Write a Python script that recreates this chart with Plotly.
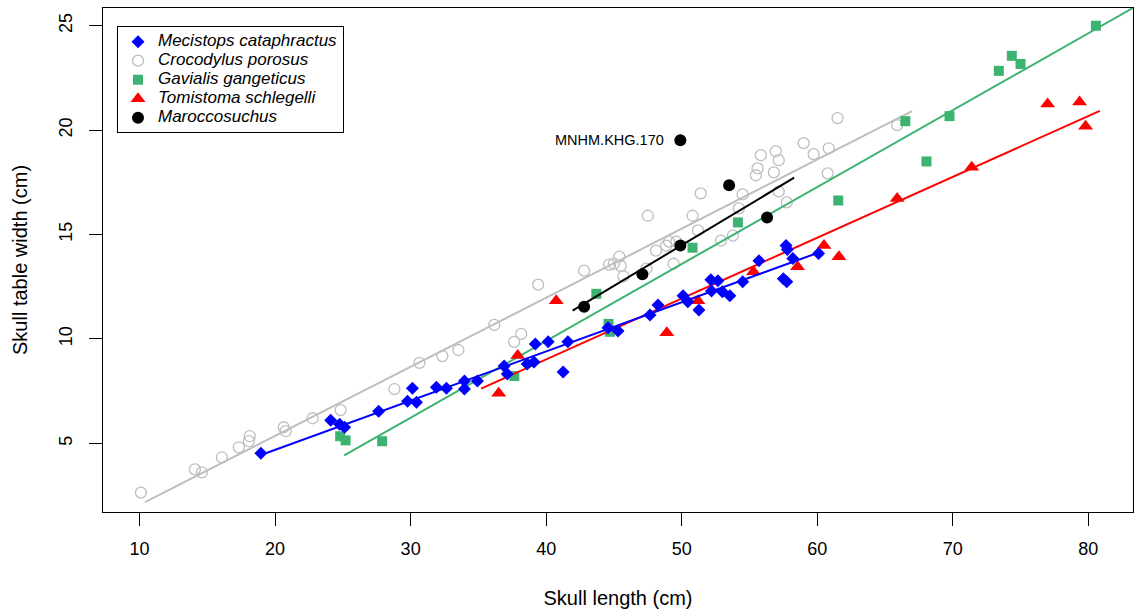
import numpy as np
import plotly.graph_objects as go

# Mecistops cataphractus
meci_x = [18.95, 24.1, 24.76, 25.13, 27.64, 29.77, 30.13, 30.43, 31.9, 32.64, 33.97, 33.97, 34.93,
          36.9, 37.13, 38.6, 39.1, 39.2, 40.15, 41.6, 41.25, 44.56, 45.3, 47.66, 48.25, 50.1, 50.45,
          51.27, 52.15, 52.67, 52.2, 53.0, 53.55, 54.5, 55.7, 57.5, 57.75, 57.7, 57.8, 58.2, 60.1]
meci_y = [4.52, 6.1, 5.91, 5.77, 6.54, 7.02, 7.64, 6.97, 7.69, 7.64, 7.98, 7.6, 7.98,
          8.7, 8.32, 8.8, 8.9, 9.76, 9.86, 9.86, 8.41, 10.53, 10.38, 11.15, 11.63, 12.07, 11.78,
          11.39, 12.84, 12.79, 12.3, 12.26, 12.07, 12.74, 13.75, 12.88, 12.74, 14.47, 14.28, 13.85, 14.09]

# Crocodylus porosus
croc_x = [10.1, 14.08, 14.6, 16.07, 17.32, 18.06, 18.13, 20.64, 20.78, 22.77, 24.83, 28.8, 30.65,
          32.34, 33.52, 36.17, 37.64, 38.16, 39.41, 42.8, 44.64, 45.0, 45.5, 45.4, 45.7, 47.5, 47.4,
          48.1, 48.85, 49.07, 49.6, 49.4, 50.8, 51.2, 51.4, 52.9, 53.78, 54.22, 54.5, 55.47, 55.6,
          55.84, 56.8, 56.94, 57.16, 57.16, 57.75, 59.0, 59.74, 60.77, 60.85, 61.5, 65.9]
croc_y = [2.64, 3.75, 3.61, 4.33, 4.81, 5.10, 5.34, 5.77, 5.58, 6.20, 6.59, 7.6, 8.85,
          9.18, 9.47, 10.67, 9.86, 10.24, 12.6, 13.27, 13.56, 13.6, 13.5, 13.94, 13.0, 15.9, 13.37,
          14.23, 14.47, 14.66, 14.66, 13.6, 15.9, 15.2, 16.97, 14.71, 14.95, 16.25, 16.92, 17.84, 18.17,
          18.8, 17.98, 18.99, 18.56, 17.07, 16.54, 19.38, 18.85, 17.93, 19.13, 20.58, 20.24]

# Gavialis gangeticus
gav_x = [24.8, 25.2, 27.9, 37.65, 43.7, 44.6, 44.7, 50.8, 54.15, 61.55, 66.5, 68.06, 69.76, 73.4, 74.36, 75.0, 80.56]
gav_y = [5.34, 5.14, 5.1, 8.22, 12.16, 10.72, 10.34, 14.37, 15.58, 16.63, 20.43, 18.5, 20.67, 22.84, 23.56, 23.17, 25.0]

# Tomistoma schlegelli
tom_x = [36.5, 37.9, 40.74, 48.9, 51.2, 55.3, 58.55, 60.5, 61.6, 65.9, 71.4, 77.0, 79.36, 79.8]
tom_y = [7.4, 9.2, 11.83, 10.29, 11.83, 13.22, 13.46, 14.47, 13.94, 16.73, 18.22, 21.25, 21.35, 20.19]

# Maroccosuchus (last one is MNHM.KHG.170, left out of the fit)
maro_x = [42.8, 47.1, 49.9, 53.5, 56.3, 49.9]
maro_y = [11.54, 13.1, 14.47, 17.36, 15.82, 19.52]
maro_label = "MNHM.KHG.170"

# x span of each regression line
line_span = {
    "meci": (18.9, 60.4),
    "croc": (10.4, 67.0),
    "gav": (25.1, 86.0),
    "tom": (35.2, 80.85),
    "maro": (41.95, 58.3),
}

def fitline(x, y, span):
    b, a = np.polyfit(x, y, 1)
    xs = np.array(span)
    return xs, a + b * xs

fig = go.Figure()

def add_species(x, y, key, name, symbol, size, color, lw=0, fitx=None, fity=None):
    fx, fy = fitline(fitx if fitx is not None else x, fity if fity is not None else y, line_span[key])
    fig.add_trace(go.Scatter(x=fx, y=fy, mode='lines', line=dict(color=color, width=2),
                             showlegend=False, hoverinfo='skip'))
    mk = dict(symbol=symbol, size=size, color=color, line=dict(color=color, width=lw))
    nm = '<span style="font-size:17px"><i>' + name + '</i></span>'
    fig.add_trace(go.Scatter(x=x, y=y, mode='markers', marker=mk, name=nm))

add_species(croc_x, croc_y, "croc", "Crocodylus porosus", "circle-open", 11, "#bebebe", lw=1.3)
add_species(gav_x, gav_y, "gav", "Gavialis gangeticus", "square", 10, "#3cb371")
add_species(tom_x, tom_y, "tom", "Tomistoma schlegelli", "triangle-up", 13, "#ff0000")
add_species(meci_x, meci_y, "meci", "Mecistops cataphractus", "diamond", 10, "#0000ff")
add_species(maro_x, maro_y, "maro", "Maroccosuchus", "circle", 12, "#000000",
            fitx=maro_x[:5], fity=maro_y[:5])

# legend order as in the figure
order = [3, 0, 1, 2, 4]
marker_traces = [t for t in fig.data if t.mode == 'markers']
for rank, idx in enumerate(order):
    marker_traces[idx].legendrank = rank + 1

fig.add_annotation(x=maro_x[5], y=maro_y[5], text=maro_label, showarrow=False,
                   xanchor='right', yanchor='middle', xshift=-14,
                   font=dict(size=14.5, color='black'))

fig.update_layout(
    width=1135, height=612,
    margin=dict(l=103, r=2, t=8, b=100),
    plot_bgcolor='white', paper_bgcolor='white',
    font=dict(family='Liberation Sans, Arial, sans-serif', color='black'),
    legend=dict(x=0.0136, y=0.964, xanchor='left', yanchor='top',
                bordercolor='black', borderwidth=1, bgcolor='white',
                font=dict(size=12), tracegroupgap=0, itemwidth=30),
)
fig.update_xaxes(range=[7.3, 83.3], tickvals=[10, 20, 30, 40, 50, 60, 70, 80], automargin=False,
                 showline=True, linecolor='black', linewidth=1, mirror=True,
                 showgrid=False, zeroline=False, ticks='outside', ticklen=13, tickcolor='black',
                 tickfont=dict(size=18), ticklabelstandoff=7,
                 title=dict(text='Skull length (cm)', font=dict(size=20), standoff=33))
fig.update_yaxes(range=[1.71, 25.85], tickvals=[5, 10, 15, 20, 25], automargin=False,
                 showline=True, linecolor='black', linewidth=1, mirror=True,
                 showgrid=False, zeroline=False, ticks='outside', ticklen=13, tickcolor='black',
                 tickfont=dict(size=18), tickangle=-90, ticklabelstandoff=10,
                 title=dict(text='Skull table width (cm)', font=dict(size=20), standoff=22))

fig.write_html("out.html", config={'displayModeBar': False},
               post_script="document.body.style.margin='0';")
